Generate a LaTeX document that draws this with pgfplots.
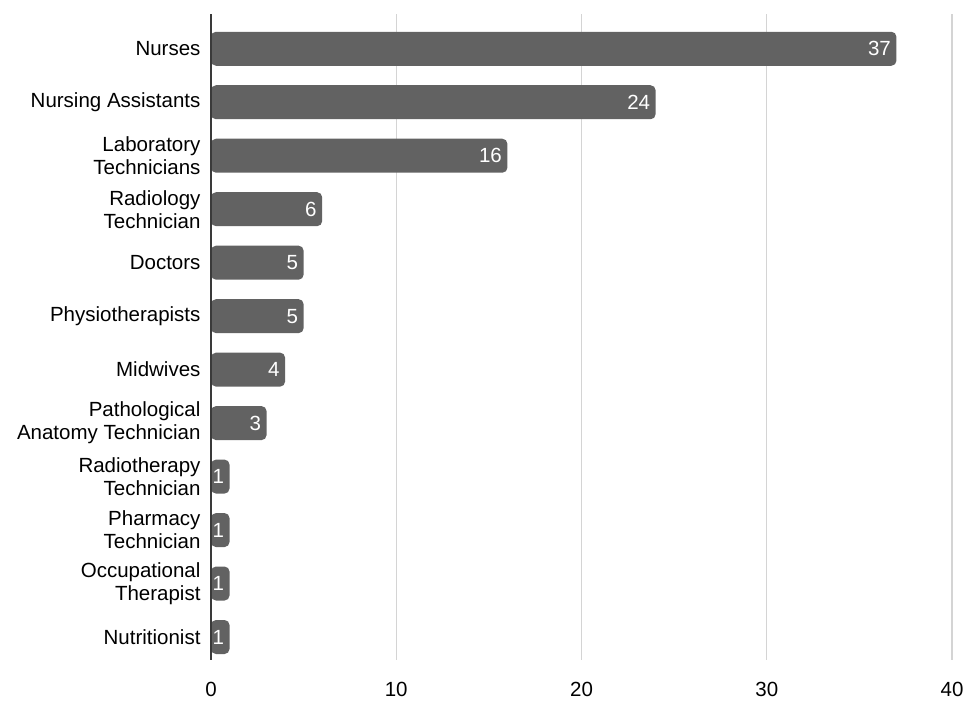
\documentclass[border=0pt]{standalone}
\usepackage{pgfplots}
\pgfplotsset{compat=1.18}
\usepackage{fontspec}
\setmainfont{Liberation Sans}
\definecolor{barc}{HTML}{626262}
\definecolor{gridc}{HTML}{D4D4D4}
\definecolor{axc}{HTML}{3A3A3A}
\begin{document}
\begin{tikzpicture}
\begin{axis}[
  scale only axis, width=741pt, height=646pt,
  xbar, bar width=34pt,
  xmin=0, xmax=40, ymin=-0.65, ymax=11.43, y dir=reverse,
  axis line style={draw=none},
  xtick={0,10,20,30,40},
  xmajorgrids, grid style={draw=gridc, line width=1.3pt},
  major tick length=0pt,
  ytick={0,...,11},
  yticklabels={Nurses,Nursing Assistants,{Laboratory\\Technicians},{Radiology\\Technician},Doctors,Physiotherapists,Midwives,{Pathological\\Anatomy Technician},{Radiotherapy\\Technician},{Pharmacy\\Technician},{Occupational\\Therapist},Nutritionist},
  yticklabel style={align=right, font=\fontsize{20.5}{23}\selectfont, xshift=-7pt},
  xticklabel style={font=\fontsize{20.5}{23}\selectfont, yshift=-19pt},
  /pgf/number format/assume math mode=true,
  nodes near coords,
  every node near coord/.append style={anchor=east, text=white, font=\fontsize{20.5}{23}\selectfont, xshift=-2pt},
  clip=false,
]
\addplot[fill=barc, draw=none, rounded corners=5pt] coordinates {
(37,0) (24,1) (16,2) (6,3) (5,4) (5,5) (4,6) (3,7) (1,8) (1,9) (1,10) (1,11)};
\draw[line width=1.5pt, color=axc] (axis cs:0,-0.65) -- (axis cs:0,11.43);
\end{axis}
\pgfresetboundingbox
\useasboundingbox ([shift={(-211pt,-48pt)}]current axis.south west) rectangle ([shift={(16pt,14pt)}]current axis.north east);
\end{tikzpicture}
\end{document}
